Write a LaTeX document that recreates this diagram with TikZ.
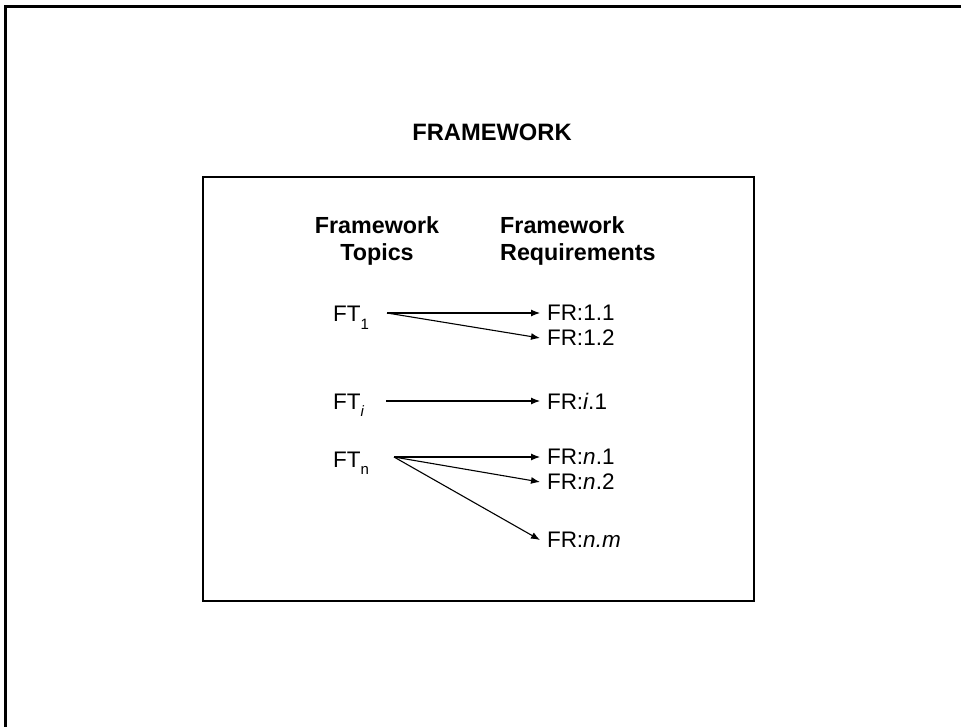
\documentclass[tikz,border=0pt]{standalone}
\usepackage{fontspec}
\setmainfont{Liberation Sans}
\usetikzlibrary{arrows.meta}

\newcommand{\ftsub}[1]{\raisebox{-7pt}{\fontsize{15}{15}\selectfont #1}}

\begin{document}
\begin{tikzpicture}[x=1pt,y=-1pt,
	every node/.style={black,inner sep=0pt,font=\fontsize{22.5}{27}\selectfont},
	frlabel/.style={anchor=west,outer sep=7pt},
	ftlabel/.style={anchor=base west},
	link/.style={-{Latex[length=9pt,width=7pt]},line width=1.1pt}]
	\useasboundingbox (0,0) rectangle (961,727);

	\draw[line width=2.5pt] (5.5,727) -- (5.5,6.5) -- (961,6.5);
	\draw[line width=2pt] (203,177) rectangle (754,601);

	\node[font=\fontsize{23.7}{27}\selectfont\bfseries] (title) at (492,132) {FRAMEWORK};
	\node[font=\fontsize{23.3}{27}\selectfont\bfseries,align=center] (topics) at (377,241) {Framework\\Topics};
	\node[font=\fontsize{23.3}{27}\selectfont\bfseries,align=left,anchor=west] (reqs) at (500,241) {Framework\\Requirements};

	\node[ftlabel] (ft1) at (333,322) {FT\ftsub{1}};
	\node[ftlabel] (fti) at (333,409) {FT\ftsub{\itshape i}};
	\node[ftlabel] (ftn) at (333,467) {FT\ftsub{n}};

	\coordinate (out1) at (387,313);
	\coordinate (outi) at (386,401);
	\coordinate (outn) at (394,457);

	\node[frlabel] (fr11) at (540,313) {FR:1.1};
	\node[frlabel] (fr12) at (540,338) {FR:1.2};
	\node[frlabel] (fri1) at (540,401) {FR:\textit{i}.1};
	\node[frlabel] (frn1) at (540,457) {FR:\textit{n}.1};
	\node[frlabel] (frn2) at (540,482) {FR:\textit{n}.2};
	\node[frlabel] (frnm) at (540,540) {FR:\textit{n.m}};

	\draw[link] (out1) -- (fr11.west);
	\draw[link] (out1) -- (fr12.west);
	\draw[link] (outi) -- (fri1.west);
	\draw[link] (outn) -- (frn1.west);
	\draw[link] (outn) -- (frn2.west);
	\draw[link] (outn) -- (frnm.west);
\end{tikzpicture}
\end{document}
